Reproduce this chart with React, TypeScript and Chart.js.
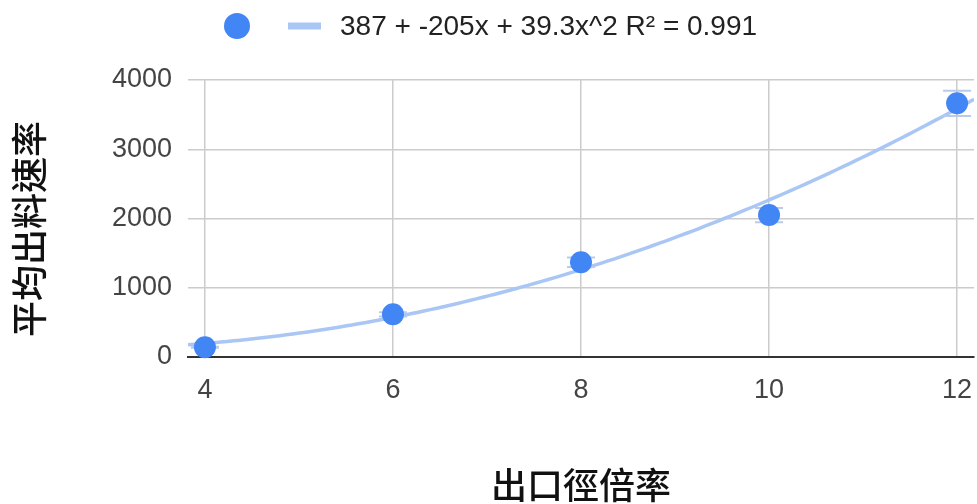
import React, { useEffect, useRef } from "react";
import { Chart, registerables } from "chart.js";

Chart.register(...registerables);

// Measured output ratio vs. outlet diameter ratio
const xValues = [4, 6, 8, 10, 12];
const rateValues = [140, 617, 1367, 2050, 3663];
const errorPercent = 5;

// Quadratic trend: c0 + c1*x + c2*x^2
const trendCoefficients = [387, -205, 39.3];
const trendLabel = "387 + -205x + 39.3x^2 R² = 0.991";

const xTickValues = [4, 6, 8, 10, 12];
const yTickValues = [0, 1000, 2000, 3000, 4000];
const xRange = [3.82, 12.18];

const xTitle = "出口徑倍率";
const yTitle = "平均出料速率";

const POINT_COLOR = "#4285F4";
const TREND_COLOR = "#a9c6f5";
const ERROR_COLOR = "#b9cbea";
const LATIN_FONT = "'Liberation Sans', Arial, sans-serif";
const CJK_FONT = "'Noto Sans CJK TC', 'Noto Sans CJK SC', sans-serif";

const trendAt = (x: number) =>
  trendCoefficients.reduce((sum, c, i) => sum + c * Math.pow(x, i), 0);

const trendPoints = (() => {
  const pts: { x: number; y: number }[] = [];
  const steps = 120;
  for (let i = 0; i <= steps; i++) {
    const x = xRange[0] + ((xRange[1] - xRange[0]) * i) / steps;
    pts.push({ x, y: trendAt(x) });
  }
  return pts;
})();

const noPadding = () => ({ left: 0, top: 0, right: 0, bottom: 0 });

const errorBarsPlugin = {
  id: "errorBars",
  beforeDatasetDraw(chart: any, args: any) {
    if (args.index !== 0) return;
    const { ctx, scales } = chart;
    const xs = scales.x;
    const ys = scales.y;
    ctx.save();
    ctx.strokeStyle = ERROR_COLOR;
    ctx.lineWidth = 2;
    xValues.forEach((xv, i) => {
      const v = rateValues[i];
      const err = (v * errorPercent) / 100;
      const px = xs.getPixelForValue(xv);
      const top = ys.getPixelForValue(v + err);
      const bottom = ys.getPixelForValue(v - err);
      const half = 14;
      ctx.beginPath();
      ctx.moveTo(px, top);
      ctx.lineTo(px, bottom);
      ctx.moveTo(px - half, top);
      ctx.lineTo(px + half, top);
      ctx.moveTo(px - half, bottom);
      ctx.lineTo(px + half, bottom);
      ctx.stroke();
    });
    ctx.restore();
  },
};

const decorPlugin = {
  id: "decor",
  afterDraw(chart: any) {
    const { ctx, chartArea } = chart;
    ctx.save();

    // Legend
    const ly = 26;
    ctx.fillStyle = POINT_COLOR;
    ctx.beginPath();
    ctx.arc(237, ly, 13, 0, Math.PI * 2);
    ctx.fill();
    ctx.strokeStyle = TREND_COLOR;
    ctx.lineWidth = 7;
    ctx.beginPath();
    ctx.moveTo(288, ly);
    ctx.lineTo(321, ly);
    ctx.stroke();
    ctx.fillStyle = "#222222";
    ctx.font = `28px ${LATIN_FONT}`;
    ctx.textAlign = "left";
    ctx.textBaseline = "middle";
    ctx.fillText(trendLabel, 340, ly + 1);

    // Axis titles
    ctx.fillStyle = "#111111";
    ctx.font = `500 36px ${CJK_FONT}`;
    ctx.textAlign = "center";
    ctx.textBaseline = "middle";
    ctx.fillText(xTitle, (chartArea.left + chartArea.right) / 2, 485);

    ctx.translate(29, 229);
    ctx.rotate(-Math.PI / 2);
    ctx.fillText(yTitle, 0, 0);
    ctx.restore();
  },
};

export default function App() {
  const canvasRef = useRef<HTMLCanvasElement | null>(null);

  useEffect(() => {
    const canvas = canvasRef.current;
    if (!canvas) return;
    const chart = new Chart(canvas, {
      type: "scatter",
      data: {
        datasets: [
          {
            label: "",
            data: xValues.map((x, i) => ({ x, y: rateValues[i] })),
            backgroundColor: POINT_COLOR,
            borderColor: POINT_COLOR,
            pointRadius: 11,
            pointBorderWidth: 0,
            showLine: false,
            clip: false,
            order: 0,
          },
          {
            type: "line",
            label: trendLabel,
            data: trendPoints,
            borderColor: TREND_COLOR,
            borderWidth: 3.5,
            pointRadius: 0,
            fill: false,
            tension: 0,
            order: 1,
          } as any,
        ],
      },
      options: {
        responsive: false,
        animation: false,
        events: [],
        layout: { autoPadding: false, padding: { top: 80, right: 3, left: 0, bottom: 0 } },
        plugins: {
          legend: { display: false },
          tooltip: { enabled: false },
        },
        scales: {
          x: {
            type: "linear",
            min: xRange[0],
            max: xRange[1],
            afterBuildTicks: (s: any) => {
              s.ticks = xTickValues.map((v) => ({ value: v }));
            },
            afterFit: (s: any) => {
              s.height = 147;
              s.paddingLeft = 0;
              s.paddingRight = 0;
              s.getPadding = noPadding;
            },
            grid: { color: "#cccccc", lineWidth: 1.5, drawTicks: false },
            border: { display: true, color: "#333333", width: 2 },
            ticks: {
              padding: 17,
              color: "#444444",
              font: { family: LATIN_FONT, size: 27 },
              callback: (v: any) => String(v),
            },
          },
          y: {
            type: "linear",
            min: yTickValues[0],
            max: yTickValues[yTickValues.length - 1],
            afterBuildTicks: (s: any) => {
              s.ticks = yTickValues.map((v) => ({ value: v }));
            },
            afterFit: (s: any) => {
              s.width = 188;
              s.getPadding = noPadding;
            },
            grid: { color: "#cccccc", lineWidth: 1.5, drawTicks: false },
            border: { display: false },
            ticks: {
              padding: 16,
              color: "#444444",
              font: { family: LATIN_FONT, size: 27 },
              callback: (v: any) => String(v),
            },
          },
        },
      },
      plugins: [errorBarsPlugin, decorPlugin],
    });
    return () => chart.destroy();
  }, []);

  return (
    <div style={{ position: "absolute", left: 0, top: 0, width: 977, height: 504, background: "#ffffff" }}>
      <canvas ref={canvasRef} width={977} height={504} style={{ display: "block" }} />
    </div>
  );
}
